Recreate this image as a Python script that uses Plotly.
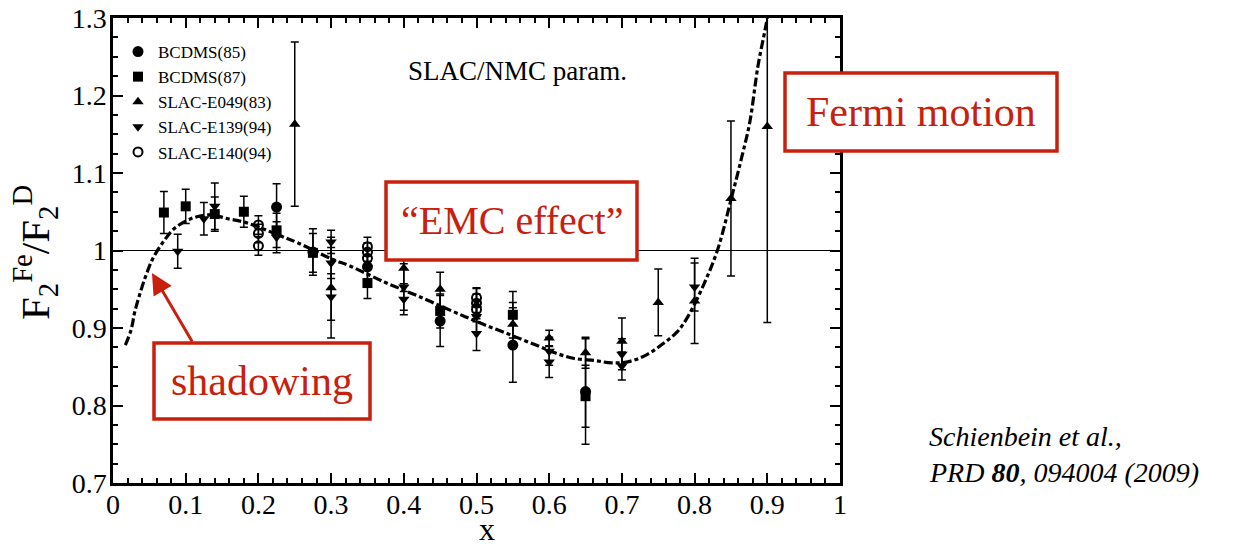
import plotly.graph_objects as go

# ---------------- data ----------------
param_x = [0.017, 0.025, 0.030, 0.037, 0.045, 0.055, 0.069, 0.084, 0.107, 0.133, 0.158, 0.183,
           0.230, 0.254, 0.301, 0.326, 0.374, 0.420, 0.466, 0.491, 0.514, 0.539, 0.563, 0.587,
           0.608, 0.633, 0.663, 0.686, 0.711, 0.735, 0.757, 0.776, 0.791, 0.813, 0.832, 0.851,
           0.865, 0.876, 0.887, 0.897, 0.900]
param_y = [0.878, 0.898, 0.921, 0.944, 0.967, 0.990, 1.011, 1.028, 1.041, 1.046, 1.041, 1.036,
           1.019, 1.010, 0.989, 0.980, 0.959, 0.941, 0.922, 0.912, 0.903, 0.894, 0.885, 0.876,
           0.868, 0.861, 0.858, 0.855, 0.857, 0.866, 0.880, 0.895, 0.915, 0.957, 1.002, 1.069,
           1.121, 1.166, 1.237, 1.285, 1.300]

bcdms85_x = [0.225, 0.275, 0.35, 0.45, 0.55, 0.65]
bcdms85_y = [1.056, 0.998, 0.979, 0.909, 0.878, 0.818]
bcdms85_e = [0.030, 0.030, 0.022, 0.033, 0.048, 0.068]

bcdms87_x = [0.07, 0.10, 0.14, 0.18, 0.225, 0.275, 0.35, 0.45, 0.55, 0.65]
bcdms87_y = [1.049, 1.057, 1.047, 1.050, 1.026, 0.997, 0.958, 0.922, 0.917, 0.812]
bcdms87_e = [0.027, 0.022, 0.022, 0.020, 0.022, 0.025, 0.020, 0.022, 0.030, 0.040]

e049_x = [0.25, 0.30, 0.40, 0.45, 0.50, 0.55, 0.60, 0.65, 0.70, 0.75, 0.80, 0.85, 0.90]
e049_y = [1.163, 0.952, 0.977, 0.950, 0.930, 0.905, 0.887, 0.868, 0.883, 0.933, 0.935, 1.067, 1.160]
e049_e = [0.106, 0.065, 0.030, 0.022, 0.022, 0.028, 0.010, 0.020, 0.030, 0.043, 0.055, 0.100, 0.253]

e139_x = [0.089, 0.125, 0.14, 0.225, 0.30, 0.30, 0.30, 0.40, 0.40, 0.50, 0.50, 0.60, 0.60,
          0.70, 0.70, 0.80]
e139_y = [0.999, 1.041, 1.057, 1.017, 1.011, 0.984, 0.940, 0.953, 0.937, 0.915, 0.893, 0.870,
          0.856, 0.866, 0.851, 0.953]
e139_e = [0.022, 0.021, 0.030, 0.020, 0.015, 0.020, 0.030, 0.030, 0.020, 0.020, 0.022, 0.018,
          0.020, 0.020, 0.018, 0.031]

e140_x = [0.20, 0.20, 0.20, 0.35, 0.35, 0.35, 0.50, 0.50, 0.50]
e140_y = [1.033, 1.022, 1.006, 1.005, 0.998, 0.990, 0.939, 0.932, 0.924]
e140_e = [0.012, 0.012, 0.012, 0.012, 0.012, 0.012, 0.012, 0.012, 0.012]

x_ticks = [0, 0.1, 0.2, 0.3, 0.4, 0.5, 0.6, 0.7, 0.8, 0.9, 1]
y_ticks = [0.7, 0.8, 0.9, 1.0, 1.1, 1.2, 1.3]

# ---------------- styling ----------------
SERIF = "Liberation Serif"
RED = "#c8200c"

fig = go.Figure()

fig.add_trace(go.Scatter(
    x=param_x, y=param_y, mode="lines", name="SLAC/NMC param.", showlegend=False,
    line=dict(color="black", width=3.2, dash="9px,3px,4px,3px", shape="spline"),
    hoverinfo="skip"))

def add_series(name, xs, ys, es, symbol, size=10, open_=False):
    marker = dict(symbol=symbol, size=size, color="black")
    if open_:
        marker = dict(symbol=symbol, size=size - 1, color="black", line=dict(color="black", width=2))
    fig.add_trace(go.Scatter(
        x=xs, y=ys, mode="markers", name=name, marker=marker,
        error_y=dict(type="data", array=es, visible=True, color="black", thickness=1.5, width=4)))

add_series("BCDMS(85)", bcdms85_x, bcdms85_y, bcdms85_e, "circle", 11)
add_series("BCDMS(87)", bcdms87_x, bcdms87_y, bcdms87_e, "square", 10)
add_series("SLAC-E049(83)", e049_x, e049_y, e049_e, "triangle-up", 10)
add_series("SLAC-E139(94)", e139_x, e139_y, e139_e, "triangle-down", 10)
add_series("SLAC-E140(94)", e140_x, e140_y, e140_e, "circle-open", 10, open_=True)

W, H = 1236, 550
L, T = 113, 18
PW, PH = 727, 465
R, B = W - L - PW, H - T - PH

def px(s):  # screen x -> paper
    return (s - L) / PW

def py(s):  # screen y -> paper
    return (H - B - s) / PH

axis_common = dict(
    showline=True, linewidth=2.5, linecolor="black", mirror="allticks",
    ticks="inside", ticklen=10, tickwidth=2, tickcolor="black",
    showgrid=False, zeroline=False, automargin=False, ticklabeloverflow="allow",
    tickfont=dict(family=SERIF, size=28, color="black"),
)

fig.update_xaxes(range=[0, 1], tickvals=x_ticks, ticklabelstandoff=-5, **axis_common,
                 minor=dict(dtick=0.02, ticks="inside", ticklen=5, tickwidth=1.5, tickcolor="black", showgrid=False))
fig.update_yaxes(range=[0.7, 1.3], tickvals=y_ticks, ticklabelstandoff=-2, **axis_common,
                 minor=dict(dtick=0.025, ticks="inside", ticklen=5, tickwidth=1.5, tickcolor="black", showgrid=False))

shapes = [
    dict(type="line", xref="x", yref="y", x0=0, x1=1, y0=1, y1=1,
         line=dict(color="black", width=1), layer="below"),
    dict(type="rect", xref="paper", yref="paper", x0=px(386), x1=px(637), y0=py(260), y1=py(182),
         fillcolor="white", line=dict(color=RED, width=3.5), layer="above"),
    dict(type="rect", xref="paper", yref="paper", x0=px(154), x1=px(370), y0=py(419), y1=py(343),
         fillcolor="white", line=dict(color=RED, width=3.5), layer="above"),
    dict(type="rect", xref="paper", yref="paper", x0=px(785), x1=px(1057), y0=py(151), y1=py(73),
         fillcolor="white", line=dict(color=RED, width=3.5), layer="above"),
]

def label(text, sx, sy, size, color="black", xanchor="center", **kw):
    return dict(text=text, xref="paper", yref="paper", x=px(sx), y=py(sy),
                xanchor=xanchor, yanchor="middle", showarrow=False,
                font=dict(family=SERIF, size=size, color=color), **kw)

annotations = [
    label("SLAC/NMC param.", 517, 71, 27),
    label("\u201cEMC effect\u201d", 511.5, 221, 40, RED),
    label("shadowing", 262, 381, 42, RED),
    label("Fermi motion", 921, 112, 42, RED),
    dict(text="", xref="paper", yref="paper", x=px(152), y=py(273), ax=41, ay=70,
         showarrow=True, arrowhead=2, arrowsize=1.4, arrowwidth=3, arrowcolor=RED),
    label("F<sub>2</sub><sup>Fe</sup>/F<sub>2</sub><sup>D</sup>", 35, 253, 41, textangle=-90),
    label("x", 487, 529, 32),
    label("<i>Schienbein et al.,</i>", 927, 436, 28, xanchor="left"),
    label("<i>PRD <b>80</b>, 094004 (2009)</i>", 927, 472, 28, xanchor="left"),
]

fig.update_layout(
    width=W, height=H, autosize=False,
    margin=dict(l=L, r=R, t=T, b=B, pad=0),
    plot_bgcolor="white", paper_bgcolor="white",
    shapes=shapes, annotations=annotations,
    showlegend=True,
    legend=dict(x=px(118), y=py(34), xanchor="left", yanchor="top",
                bgcolor="rgba(0,0,0,0)", font=dict(family=SERIF, size=17, color="black"),
                itemwidth=30, tracegroupgap=0),
)

fig.write_html("out.html", config={"displayModeBar": False},
               post_script="document.body.style.margin='0px';")
